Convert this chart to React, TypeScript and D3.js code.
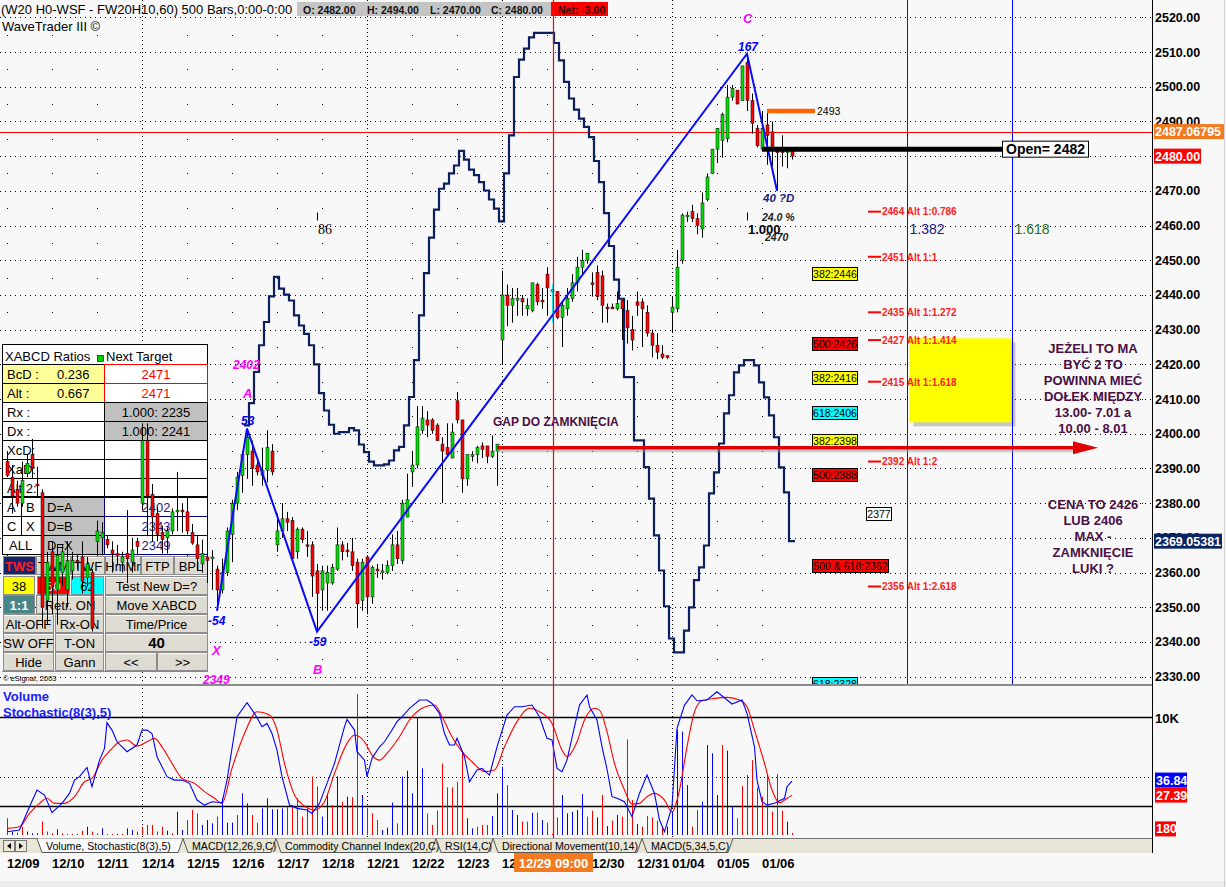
import React from "react";
import * as d3 from "d3";

const FONT = "'Liberation Sans', Arial, Helvetica, sans-serif";
const W = 1226;
const H = 887;

// ---------------- time axis ----------------
const dayLabels = ["12/09","12/10","12/11","12/14","12/15","12/16","12/17","12/18","12/21","12/22","12/23","12/28","12/29","12/30","12/31","01/04","01/05","01/06"];
const dayBarCounts = [9,9,9,9,9,9,9,9,9,9,9,9,9,9,7,9,9,7];
const weekStartLabels = ["12/14","12/21","12/28","01/04"];
const cursorBar = 109;
const cursorLabel = "12/29 09:00";

// ---------------- price axis ----------------
const priceTicks = [2330,2340,2350,2360,2370,2380,2390,2400,2410,2420,2430,2440,2450,2460,2470,2480,2490,2500,2510,2520];

// ---------------- hourly candles [open, high, low, close] ----------------
const ohlc: [number, number, number, number][] = [
  [2392,2395,2387.5,2388],[2387.5,2391,2377,2382],[2384,2386.5,2379,2380],[2380,2392,2379,2386.5],[2388.5,2394,2387.5,2391.5],
  [2394,2398.5,2387,2390],[2385.5,2390.5,2382,2385],[2383,2384,2344,2350],[2352,2366,2345,2363],[2366,2369,2348,2356],
  [2355,2368,2345,2365],[2360,2368,2356,2366],[2355,2369,2350,2363.5],[2360.5,2366,2358,2363.5],[2363.5,2365,2361,2363],
  [2364.5,2369,2354,2357.5],[2358.5,2364.5,2356,2362.5],[2360,2361,2343,2344],[2369,2375,2365,2372],[2370,2374.5,2365,2371.5],
  [2369.5,2370.5,2367,2368],[2366.5,2369,2360,2365.5],[2365.5,2368,2362,2365],[2363,2366,2360,2364.5],[2365.5,2378,2357,2364],
  [2363,2370,2360,2366.5],[2369,2370,2365,2367.5],[2380,2403,2378,2398],[2398,2403,2370.5,2382],[2382.5,2385.5,2369,2376],
  [2377,2379,2369,2371],[2371.5,2373.5,2365.5,2369.5],[2370,2373,2365.5,2372],[2372,2378.5,2371,2377.5],[2377.5,2389,2372,2378],
  [2378,2380,2371.5,2377.5],[2377.5,2381.5,2371,2372],[2371.5,2374,2368,2368.5],[2368,2370.5,2360.5,2364],[2362.5,2369.5,2360,2365.5],
  [2364.5,2365.5,2357,2363.5],[2364,2366.5,2355,2364.5],[2361,2362,2349,2355],[2355,2364,2354,2360],[2360,2373,2359,2372],
  [2371,2381,2363,2380],[2380,2389,2378,2387.5],[2388,2395,2383,2394],[2394,2401.5,2387,2399],[2395,2398,2385,2390],
  [2391,2392,2388,2389],[2388,2396,2385,2389.5],[2389.5,2401,2386,2396],[2395,2397,2388,2389],[2368,2377,2366,2372],
  [2372,2380,2370,2375.5],[2375.5,2377.5,2372,2374.5],[2375,2376,2363,2364],[2366,2373,2364,2372.5],[2372.5,2373,2368.5,2369.5],
  [2368,2372,2364.5,2367.5],[2368,2369,2353,2359],[2360.5,2362.5,2343,2354],[2355,2362,2349,2360.5],[2357,2362,2349,2360],
  [2357,2362.5,2356.5,2361.5],[2361,2373,2360.5,2368],[2368,2369,2363.5,2366],[2366.5,2368.5,2364.5,2366],[2366,2370,2360.5,2362],
  [2363,2364,2344,2351],[2352,2364,2349,2363],[2364.5,2365,2348,2353],[2353,2362,2351,2361.5],[2361,2362.5,2358.5,2360.5],
  [2360,2362.5,2358,2360.5],[2360,2363.5,2359.5,2362],[2362,2371,2360.5,2368],[2368,2372,2362.5,2364],[2363.5,2381,2362.5,2380],
  [2376,2388.5,2376,2381],[2389,2395,2385,2391],[2391,2408,2390,2402],[2401,2408,2400,2404.5],[2404,2406.5,2399,2402.5],
  [2404,2404.5,2400,2401],[2402.5,2403,2398,2398],[2397,2399,2380,2395],[2396,2403,2393.5,2394],[2393,2403,2393,2400.5],
  [2409.5,2412,2403,2404],[2404,2404,2383,2387],[2387,2394,2385,2394],[2393.5,2395,2392,2394],[2394,2396.5,2391.5,2396],
  [2396.5,2397.5,2393,2395.5],[2396.5,2396.5,2391.5,2393.5],[2393.5,2399.5,2393,2395],[2395,2397,2385,2397],[2427,2447,2420,2440],
  [2440,2443,2431,2437],[2437,2442,2432,2439],[2438.5,2442,2434,2439],[2439,2440,2434,2438],[2436,2439,2434,2437],
  [2435.5,2443.5,2435,2443.5],[2443,2443.5,2437,2438],[2438.5,2442,2436,2438],[2446,2448,2434,2442],[2441,2443,2432,2441.5],
  [2441,2441,2433,2433.5],[2433.5,2438,2425,2437],[2436,2442,2434,2439],[2439,2446,2438,2443.5],[2443.5,2451,2441,2448],
  [2448,2453,2446,2450],[2450,2452,2449,2452],[2443.5,2446.5,2439.5,2443],[2446.5,2448.5,2438.5,2439.5],[2445.5,2447,2432,2437],
  [2436.5,2437.5,2432,2436],[2436.5,2437.5,2436,2436],[2436,2441,2435.5,2437.5],[2438.5,2438.5,2427,2436],[2435.5,2438.5,2426,2430.5],
  [2430,2434,2424,2427],[2438,2441,2434,2437],[2438,2439,2425,2436],[2435,2437,2428,2429],[2429,2430,2422,2425.5],
  [2425.5,2429,2421.5,2423.5],[2423,2425.5,2421.5,2422],[2422.5,2422.5,2421.5,2422],[2435,2439.5,2429,2436.5],[2436,2453,2435,2448],
  [2450,2463.5,2449,2463],[2462.5,2464,2461,2463],[2464,2466,2461,2462],[2462,2463.5,2457.5,2460],[2459,2469.5,2456.5,2466.5],
  [2467.5,2475,2467,2474],[2475,2482,2475,2482],[2482,2488,2478,2488],[2484.5,2492.5,2479.5,2492],[2485,2500.5,2484,2497],
  [2497,2500.5,2496,2499.5],[2499,2499,2495,2495],[2496,2506,2496,2506],[2507,2509.5,2493,2496],[2496,2498,2486.5,2489.5],
  [2488,2489,2482.5,2483],[2482,2493,2481.5,2488],[2489,2493,2477.5,2486],[2487,2490,2477,2482.5],[2482,2482.5,2470,2481],
  [2482,2486,2477,2481],[2481,2482,2476.5,2481.5],[2481.5,2482,2479,2480]
];

// ---------------- cycle (step) line, one value per bar starting at bar 48 ----------------
const cycleStartBar = 48;
const cycleLine = [
  2402.4,2408.8,2417.8,2425.5,2432.2,2439.6,2445.2,2441.8,2440.1,2438.4,
  2434.1,2431.2,2428.8,2425.5,2420,2411.7,2406.7,2402.6,2400,2400.5,
  2400.5,2401.6,2401,2396.9,2394.7,2392,2390.9,2390.9,2391.2,2392.3,
  2395.2,2396.2,2402.4,2410.6,2421.2,2434.1,2446.3,2456.5,2464.6,2470.6,
  2472.1,2475,2477.3,2481.5,2479,2476.1,2474.5,2472.5,2470.1,2467.5,
  2464.9,2461.2,2475,2486,2502.8,2507.8,2511,2514.2,2515.5,2515.5,
  2515.5,2515.5,2512.6,2507.6,2501.4,2496.6,2493.4,2490.8,2488.4,2485.5,
  2478.6,2472.5,2463.6,2454.1,2444.4,2438.9,2416.3,2416.3,2398.1,2398.1,
  2390.4,2381.3,2370.7,2360.6,2350.3,2341,2337,2337,2343.3,2350,
  2357.8,2361.5,2367.8,2382.8,2388.9,2397.2,2405.9,2411.1,2417.7,2419.7,
  2421.2,2421.2,2419.7,2414.8,2410.5,2405.3,2399,2390.3,2383.1,2369.05381
];

// ---------------- volume (thousands) and bar direction (B = up/blue, R = down/red) ----------------
const volumesK = [
  1.43,0.3,0.2,0.7,0.3,0.15,0.15,1.14,0.29,0.15,
  0.49,0.15,0.1,0.1,0.1,0.37,0.71,0.29,0.15,0.57,
  0.09,0.09,0.1,0.1,0.57,0.43,0.29,0.71,0.86,0.86,
  0.29,0.71,0.37,0.15,1.99,0.43,1.28,2.14,1.85,0.86,
  1.28,1.0,1.57,3.14,1.05,1.05,1.71,3.56,2.71,1.71,
  1.05,2.28,3.14,2.2,2.2,2.28,2.42,2.56,3.14,1.57,
  2.28,4.99,4.13,1.57,3.56,2.56,4.99,2.85,3.28,3.23,
  12.05,3.42,2.28,1.85,1.28,0.43,0.63,2.77,1.0,4.99,
  5.5,3.56,10.06,5.7,1.85,0.86,2.08,6.1,4.07,4.07,
  4.56,7.12,1.43,0.57,0.71,0.86,0.86,1.62,3.56,5.83,
  4.27,2.14,1.71,1.14,1.14,1.91,1.91,1.28,1.05,0.1,
  1.51,3.42,1.85,1.99,2.14,3.5,1.57,2.08,1.51,3.42,
  0.77,1.23,1.71,1.57,8.18,2.99,0.94,0.71,1.62,1.51,
  1.23,0.6,0.71,1.99,9.03,8.83,4.27,0.71,2.14,2.85,
  7.7,6.98,3.42,7.7,7.21,2.42,1.43,4.19,5.13,6.4,
  4.07,3.28,5.13,1.99,5.21,2.08,1.14,0.18
];
const volumeDirs =
  "RBRRBBBRRR" + "BRRRRRBRRB" + "RRBRBBRRRR" + "RRBRBBRRRB" + "BBRBBBRBBR" +
  "RBBBBBRRRR" + "RRRBBRBRBR" + "RBRRRBBBRB" + "BBBBRRRRRR" + "RRBBRRRBBB" +
  "RBBRRBRBRR" + "RBBBBBRRBR" + "BRBRRRBRRR" + "RRBBBBBRRB" + "BBBRBBRRRR" + "RRRRRRBR";

// ---------------- stochastic readings [bar, value] ----------------
const stochK: [number, number][] = [
  [0,2.6],[2.5,3.8],[4.5,19.5],[6,30.8],[7.5,27.4],[9,15.5],[11,21.8],[12.5,28.5],[13.5,37.5],[14.5,39.8],
  [16,46],[17,33],[18.5,51],[19.5,58.9],[20,76.3],[21,71.3],[22,63.4],[24,56.7],[26,61.2],[27,71.3],
  [28,71.3],[29,69],[30,53.3],[32,39.8],[33.5,37.5],[35,37.5],[36.5,35.3],[38,24],[39.5,20.6],[41,22.9],
  [43,22.2],[44,37.5],[46,80.3],[48,89.8],[49.5,82.6],[51,73.6],[52,75.8],[53,69],[54,57.8],[55,39.8],
  [56.5,20.6],[58,18.4],[60,17.3],[61,15],[62.5,21.8],[64,35.3],[65.5,48.8],[67.5,73.6],[68,78.5],[69.5,71.3],
  [70,56.7],[71.5,51],[72,39.8],[73,52.2],[74.5,60],[75.5,63.4],[77,71.3],[78,77],[79,80.3],[80.5,86],
  [82.5,91.6],[84,91.6],[85,89.3],[86.5,82.6],[87.5,69],[88.5,61.2],[89.5,61.2],[90,65.7],[91.5,53.3],[92.5,36.4],
  [94,44.3],[95,45.4],[96.5,40.9],[98,60],[100,81.4],[101.5,87.1],[103,87.1],[105,88.2],[106.5,80.3],[108,65.7],
  [109,64.6],[110,45.4],[111,43.2],[112,51],[113.5,73.6],[114.5,88.2],[116,95],[116.5,87.1],[118,78.1],[119,60],
  [120,45],[121,26.3],[122,25.2],[123.5,22.9],[125,12.8],[126.5,28.5],[128,40.9],[129.5,28.5],[130.5,10.5],[131.5,2.6],
  [133,19.5],[134,72.4],[135.5,88.2],[137,95],[138,91.1],[140,91.6],[142,97.2],[145,88.9],[147,91.6],[148,82.6],
  [149.5,60],[150,37.5],[151,22.9],[152,20.6],[153.5,21.8],[155.5,25.2],[156,33],[157,36.84]
];
const stochD: [number, number][] = [
  [0,4.9],[2.5,6],[4.5,15],[6.5,21.8],[8,25.2],[9.5,21.8],[11.5,21.8],[13.5,26.3],[15.5,36.4],[17,38.7],
  [19,51],[21,58.9],[22.5,63.4],[24,64.6],[26,60.5],[28,63.4],[29.5,65.7],[31,60],[33,48.8],[35,38.7],
  [37.5,35.3],[39.5,29.7],[41.5,25.2],[43,21.8],[45,45.4],[47.5,69],[50,83.7],[52.5,81.5],[54,71.3],[55.5,48.8],
  [57.5,27.4],[59.5,20],[61.5,17.3],[63.5,22.9],[65.5,42],[68,62.3],[69.5,68],[71.5,63.4],[73,54.4],[74.5,51],
  [76,55.6],[78.5,66.8],[80.5,78.1],[83,86],[85.5,88.2],[87,80.3],[89,66.8],[91,56.7],[93,49.9],[95.5,43.2],
  [97.5,44.3],[99.5,60],[102,77],[104.5,86],[106.5,83.7],[109,75.8],[111,57.8],[112,53.3],[114,63.4],[115.5,78.1],
  [117.5,86],[118.5,84.8],[120,70.2],[121.5,48.8],[123.5,30.8],[125,21.3],[126.5,21.8],[128,26.3],[129.5,28.5],[131.5,24],
  [133,16.1],[134.5,30.8],[136,60],[137.5,83.7],[139,91.1],[141.5,92.7],[144,93.4],[146.5,91.6],[148,87.1],[149.5,71.3],
  [151.5,48.8],[153,30.8],[154.5,22.2],[156,25.2],[157,27.39]
];

// ---------------- XABCD pattern ----------------
const xabcdPoints = [
  { name: "X", bar: 42, price: 2349 },
  { name: "A", bar: 48, price: 2401.5 },
  { name: "B", bar: 62, price: 2343 },
  { name: "C", bar: 148, price: 2509.5 },
  { name: "D", bar: 154, price: 2470 }
];
const timeRatios = [1.382, 1.618];

// ---------------- levels & annotations ----------------
const fibBoxes = [
  { text: "382:2446", price: 2446, bg: "#ffff00", wide: false },
  { text: "500:2426", price: 2426, bg: "#ff0000", wide: false },
  { text: "382:2416", price: 2416, bg: "#ffff00", wide: false },
  { text: "618:2406", price: 2406, bg: "#00ffff", wide: false },
  { text: "382:2398", price: 2398, bg: "#ffff00", wide: false },
  { text: "500:2388", price: 2388, bg: "#ff0000", wide: false },
  { text: "500 & 618:2362", price: 2362, bg: "#ff0000", wide: true },
  { text: "618:2328", price: 2328, bg: "#00ffff", wide: false }
];
const altLevels = [
  { price: 2464, text: "2464 Alt 1:0.786" },
  { price: 2451, text: "2451 Alt 1:1" },
  { price: 2435, text: "2435 Alt 1:1.272" },
  { price: 2427, text: "2427 Alt 1:1.414" },
  { price: 2415, text: "2415 Alt 1:1.618" },
  { price: 2392, text: "2392 Alt 1:2" },
  { price: 2356, text: "2356 Alt 1:2.618" }
];
const pivotBoxPrice = 2377;
const gapPrice = 2396;
const gapStartBar = 98;
const openPrice = 2482;
const openStartBar = 151;
const resistPrice = 2493;
const resistStartBar = 152;
const cursorPrice = 2487.06795;
const lastClose = 2480;
const cycleLast = 2369.05381;
const lastK = 36.84;
const lastD = 27.39;
const lastVolume = 180;
const noteBoxTop = 2427.5;
const noteBoxBottom = 2403.3;
const noteLines1 = ["JEŻELI TO MA", "BYĆ 2 TO", "POWINNA MIEĆ", "DOŁEK MIĘDZY", "13.00- 7.01 a", "10.00 - 8.01"];
const noteLines2 = ["CENA TO 2426", "LUB 2406", "MAX -", "ZAMKNIĘCIE", "LUKI ?"];
const tabs = [
  { label: "Volume, Stochastic(8(3),5)", x0: 37, x1: 183, active: true },
  { label: "MACD(12,26,9,C)", x0: 183, x1: 276, active: false },
  { label: "Commodity Channel Index(20,C)", x0: 276, x1: 436, active: false },
  { label: "RSI(14,C)", x0: 436, x1: 493, active: false },
  { label: "Directional Movement(10,14)", x0: 493, x1: 642, active: false },
  { label: "MACD(5,34,5,C)", x0: 642, x1: 733, active: false }
];

const PR = 1152; // right edge of plot
const MAIN_B = 684;
const SUB_T = 686;
const SUB_B = 837;
const TAB_B = 853;

export default function App() {
  const xScale = d3.scaleLinear().domain([0, 157]).range([7, 792]);
  const yScale = d3.scaleLinear().domain([2330, 2520]).range([676.7, 17.3]);
  const stochScale = d3.scaleLinear().domain([0, 100]).range([835.6, 687.6]);
  const volScale = d3.scaleLinear().domain([0, 10]).range([835, 718]);
  const px = (i: number) => Math.round(xScale(i)) + 0.5;
  const py = (p: number) => Math.round(yScale(p)) + 0.5;

  const dayStarts: number[] = [];
  let acc = 0;
  dayBarCounts.forEach((n) => { dayStarts.push(acc); acc += n; });
  const weekStarts = dayStarts.filter((_, k) => weekStartLabels.includes(dayLabels[k]));
  const otherStarts = dayStarts.filter((_, k) => !weekStartLabels.includes(dayLabels[k]));

  const stepPts: [number, number][] = cycleLine.map((v, k) => [xScale(cycleStartBar + k) - 3, yScale(v)]);
  stepPts.push([xScale(cycleStartBar + cycleLine.length - 1) + 3, yScale(cycleLine[cycleLine.length - 1])]);
  const stepPath = d3.line().curve(d3.curveStepAfter)(stepPts) || "";

  const patPath = d3.line<{ bar: number; price: number }>().x((d) => xScale(d.bar)).y((d) => yScale(d.price))(xabcdPoints) || "";
  const kPath = d3.line<[number, number]>().x((d) => xScale(d[0])).y((d) => stochScale(d[1]))(stochK) || "";
  const dPath = d3.line<[number, number]>().curve(d3.curveMonotoneX).x((d) => xScale(d[0])).y((d) => stochScale(d[1]))(stochD) || "";

  const P = Object.fromEntries(xabcdPoints.map((p) => [p.name, { x: xScale(p.bar), y: yScale(p.price), bar: p.bar, price: p.price }]));
  const bcBars = P.C.bar - P.B.bar;
  const timeBars = timeRatios.map((r) => P.B.bar + Math.floor(bcBars * r));
  const tX = timeBars.map((b) => px(b));

  const halfLevels = priceTicks.slice(0, -1).map((p) => p + 5);
  const timeLabelY = 233.5;

  const cursorX = px(cursorBar) + 1;
  const cursorBoxX0 = Math.round(cursorX) - 40;

  const cell = (x0: number, y0: number, x1: number, y1: number, fill: string, stroke = "#000", sw = 1) => (
    <rect x={x0 + 0.5} y={y0 + 0.5} width={x1 - x0} height={y1 - y0} fill={fill} stroke={stroke} strokeWidth={sw} />
  );

  const buttonRows: { y: number; cells: { x0: number; x1: number; t: string; bg?: string; fg?: string; bold?: boolean; size?: number }[] }[] = [
    { y: 556, cells: [
      { x0: 3, x1: 35, t: "TWS", bg: "#14246e", fg: "#ff2020", bold: true },
      { x0: 36, x1: 70, t: "TWM" }, { x0: 71, x1: 104, t: "TWF" }, { x0: 105, x1: 140, t: "HmMr" },
      { x0: 141, x1: 173, t: "FTP" }, { x0: 174, x1: 207, t: "BPL" }] },
    { y: 576, cells: [
      { x0: 3, x1: 34, t: "38", bg: "#ffff00" }, { x0: 37, x1: 69, t: "50", bg: "#ff0000", fg: "#fff" },
      { x0: 71, x1: 103, t: "62", bg: "#00ffff" }, { x0: 105, x1: 207, t: "Test New D=?" }] },
    { y: 595, cells: [
      { x0: 3, x1: 34, t: "1:1", bg: "#4a8585", fg: "#fff", bold: true }, { x0: 36, x1: 103, t: "Retr. ON" },
      { x0: 105, x1: 207, t: "Move XABCD" }] },
    { y: 614, cells: [
      { x0: 3, x1: 53, t: "Alt-OFF" }, { x0: 55, x1: 103, t: "Rx-ON" }, { x0: 105, x1: 207, t: "Time/Price" }] },
    { y: 633, cells: [
      { x0: 3, x1: 53, t: "SW OFF" }, { x0: 55, x1: 103, t: "T-ON" }, { x0: 105, x1: 207, t: "40", bold: true, size: 15 }] },
    { y: 652, cells: [
      { x0: 3, x1: 53, t: "Hide" }, { x0: 55, x1: 103, t: "Gann" }, { x0: 105, x1: 156, t: "<<" }, { x0: 157, x1: 207, t: ">>" }] }
  ];

  const labelBox = (x: number, yc: number, w: number, text: string, bg: string, fg = "#fff", size = 12.5) => (
    <g>
      <rect x={x} y={yc - 7.5} width={w} height={15} fill={bg} />
      <text x={x + 1} y={yc + 4.5} fontSize={size} fontWeight="bold" fill={fg}>{text}</text>
    </g>
  );

  // date labels: those fully covered by the cursor label are not drawn
  const dateItems = dayStarts
    .map((ds, k) => ({ x: Math.round(xScale(ds)), label: dayLabels[k] }))
    .filter((d) => !(d.x >= cursorBoxX0 && d.x + 33 <= cursorBoxX0 + 79));

  return (
    <div style={{ position: "absolute", left: 0, top: 0 }}>
      <svg width={W} height={H} viewBox={`0 0 ${W} ${H}`} style={{ display: "block", fontFamily: FONT }}>
        <defs>
          <clipPath id="mainClip"><rect x={0} y={0} width={PR} height={MAIN_B} /></clipPath>
          <clipPath id="subClip"><rect x={0} y={SUB_T - 10} width={PR} height={SUB_B - SUB_T + 10} /></clipPath>
          <clipPath id="dateClip"><rect x={0} y={853} width={cursorBoxX0} height={30} /><rect x={cursorBoxX0 + 79} y={853} width={PR} height={30} /></clipPath>
        </defs>
        <rect x={0} y={0} width={W} height={H} fill="#f8f8f8" />

        {/* ---------- main panel grid ---------- */}
        <g clipPath="url(#mainClip)">
          {priceTicks.map((p) => (
            <line key={p} x1={0} x2={PR} y1={py(p)} y2={py(p)} stroke="#000" strokeDasharray="1 4" />
          ))}
          {otherStarts.map((ds) => halfLevels.map((p) => (
            <rect key={`${ds}-${p}`} x={Math.round(xScale(ds))} y={Math.round(yScale(p))} width={1} height={1} fill="#000" />
          )))}
        </g>
        {weekStarts.map((ds) => (
          <line key={ds} x1={px(ds)} x2={px(ds)} y1={0} y2={SUB_B} stroke="#000" strokeDasharray="1 3" />
        ))}

        {/* ---------- XABCD table & buttons ---------- */}
        <g fontSize={13} fill="#000">
          {cell(2, 344, 207, 554, "#fff")}
          {cell(2, 344, 207, 364, "#fff")}
          <text x={5} y={361}>XABCD Ratios</text>
          <rect x={97.5} y={355.5} width={6} height={6} fill="#00d000" stroke="#000" strokeWidth={0.6} />
          <text x={106} y={361}>Next Target</text>
          {cell(2, 364, 104, 383, "#ffff99")}
          {cell(104, 364, 207, 383, "#fff", "#ff0000")}
          <text x={7} y={379}>BcD :</text><text x={57} y={379}>0.236</text>
          <text x={156} y={379} textAnchor="middle" fill="#ff0000">2471</text>
          {cell(2, 383, 104, 402, "#ffff99")}
          {cell(104, 383, 207, 402, "#fff", "#ff0000")}
          <text x={7} y={398}>Alt   :</text><text x={57} y={398}>0.667</text>
          <text x={156} y={398} textAnchor="middle" fill="#ff0000">2471</text>
          {cell(2, 402, 104, 421, "#fff")}
          {cell(104, 402, 207, 421, "#c0c0c0")}
          <text x={7} y={417}>Rx   :</text>
          <text x={156} y={417} textAnchor="middle">1.000: 2235</text>
          {cell(2, 421, 104, 440, "#fff")}
          {cell(104, 421, 207, 440, "#c0c0c0")}
          <text x={7} y={436}>Dx   :</text>
          <text x={156} y={436} textAnchor="middle">1.000: 2241</text>
          {cell(2, 440, 104, 459, "#fff")}{cell(104, 440, 207, 459, "#fff")}
          <text x={7} y={455}>XcD:</text>
          {cell(2, 459, 104, 478, "#fff")}{cell(104, 459, 207, 478, "#fff")}
          <text x={7} y={474}>XaD:</text>
          {cell(2, 478, 104, 497, "#fff")}{cell(104, 478, 207, 497, "#fff")}
          <text x={7} y={493}>Alt  2:</text>
          {cell(2, 497, 21, 516, "#fff")}{cell(21, 497, 41, 516, "#fff")}{cell(41, 497, 104, 516, "#c0c0c0")}
          {cell(104, 497, 207, 516, "#fff", "#000080")}
          <text x={7} y={512}>A</text><text x={26} y={512}>B</text><text x={47} y={512}>D=A</text>
          <text x={156} y={512} textAnchor="middle" fill="#1a1a8c">2402</text>
          {cell(2, 516, 21, 535, "#fff")}{cell(21, 516, 41, 535, "#fff")}{cell(41, 516, 104, 535, "#c0c0c0")}
          {cell(104, 516, 207, 535, "#fff", "#000080")}
          <text x={7} y={531}>C</text><text x={26} y={531}>X</text><text x={47} y={531}>D=B</text>
          <text x={156} y={531} textAnchor="middle" fill="#1a1a8c">2343</text>
          {cell(2, 535, 41, 554, "#fff")}{cell(41, 535, 104, 554, "#c0c0c0")}
          {cell(104, 535, 207, 554, "#fff", "#000080")}
          <text x={9} y={550}>ALL</text><text x={47} y={550}>D=X</text>
          <text x={156} y={550} textAnchor="middle" fill="#1a1a8c">2349</text>
          <line x1={2} x2={208} y1={497} y2={497} stroke="#000" strokeWidth={2} />
          {buttonRows.map((row, ri) => (
            <g key={ri}>
              {row.cells.map((c, ci) => (
                <g key={ci}>
                  <rect x={c.x0 + 0.5} y={row.y + 0.5} width={c.x1 - c.x0} height={18} fill={c.bg || "#dedbd2"} stroke="#8c8c8c" />
                  <line x1={c.x0 + 1} x2={c.x1} y1={row.y + 1.5} y2={row.y + 1.5} stroke="#fff" strokeOpacity={c.bg ? 0 : 0.9} />
                  <text x={(c.x0 + c.x1) / 2 + 0.5} y={row.y + 14.5} textAnchor="middle" fontSize={c.size || 13}
                    fontWeight={c.bold ? "bold" : "normal"} fill={c.fg || "#000"}>{c.t}</text>
                </g>
              ))}
            </g>
          ))}
          <line x1={2} x2={208} y1={671.5} y2={671.5} stroke="#888" />
          <text x={3} y={681} fontSize={7.5}>© eSignal, 2003</text>
        </g>

        {/* ---------- right side annotation area ---------- */}
        <rect x={tX[0] + 6} y={yScale(noteBoxTop) + 4} width={tX[1] - tX[0] - 3} height={yScale(noteBoxBottom) - yScale(noteBoxTop)} fill="#8a8a8a" opacity={0.45} />
        <rect x={tX[0] + 2} y={yScale(noteBoxTop)} width={tX[1] - tX[0] - 3} height={yScale(noteBoxBottom) - yScale(noteBoxTop)} fill="#ffff00" />
        {tX.map((x, k) => (
          <line key={k} x1={x} x2={x} y1={0} y2={MAIN_B} stroke={k === 0 ? "#1a1a9a" : "#0000ff"} />
        ))}
        <text x={tX[0] + 2} y={timeLabelY} fontSize={14} fill="#1a1a80">{timeRatios[0].toFixed(3)}</text>
        <text x={tX[1] + 2} y={timeLabelY} fontSize={14} fill="#267018">{timeRatios[1].toFixed(3)}</text>

        <g clipPath="url(#mainClip)">
          {fibBoxes.map((b) => {
            const yc = Math.round(yScale(b.price));
            const w = b.wide ? 76 : 45;
            return (
              <g key={b.text}>
                <rect x={812.5} y={yc - 6.5} width={w} height={13} fill={b.bg} stroke="#000" />
                <text x={812.5 + w / 2} y={yc + 4} textAnchor="middle" fontSize={10.5} fill="#000">{b.text}</text>
              </g>
            );
          })}
          <rect x={866.5} y={Math.round(yScale(pivotBoxPrice)) - 6.5} width={25} height={13} fill="#fff" stroke="#000" />
          <text x={879} y={Math.round(yScale(pivotBoxPrice)) + 4} textAnchor="middle" fontSize={10.5}>{pivotBoxPrice}</text>
        </g>
        {altLevels.map((a) => (
          <g key={a.text}>
            <line x1={868} x2={881} y1={yScale(a.price)} y2={yScale(a.price)} stroke="#ff0000" strokeWidth={2} />
            <text x={882} y={yScale(a.price) + 3.8} fontSize={10} fontWeight="bold" fill="#ff2020">{a.text}</text>
          </g>
        ))}

        {/* horizontal cursor line */}
        <line x1={0} x2={PR} y1={py(cursorPrice)} y2={py(cursorPrice)} stroke="#ff0000" />

        {/* ---------- price series ---------- */}
        <g clipPath="url(#mainClip)">
          <path d={stepPath} fill="none" stroke="#0c1f5e" strokeWidth={2.2} />
          {ohlc.map(([o, h, l, c], i) => {
            const x = px(i);
            const up = c >= o;
            const hi = i === cursorBar;
            const fill = hi ? "#00ffff" : up ? "#00e000" : "#ff0000";
            const yT = yScale(Math.max(o, c));
            const yB = yScale(Math.min(o, c));
            return (
              <g key={i}>
                <line x1={x} x2={x} y1={yScale(h)} y2={yScale(l)} stroke={hi ? "#00ffff" : "#000"} />
                <rect x={x - 1.5} y={yT} width={3} height={Math.max(1.2, yB - yT)} fill={fill} stroke="#000" strokeWidth={0.6} strokeOpacity={0.8} />
              </g>
            );
          })}
          <path d={patPath} fill="none" stroke="#0a0aff" strokeWidth={2} />
        </g>

        {/* gap arrow */}
        <g>
          <line x1={xScale(gapStartBar)} x2={1076} y1={yScale(gapPrice) + 3} y2={yScale(gapPrice) + 3} stroke="#9a9a9a" strokeWidth={3} opacity={0.5} />
          <line x1={xScale(gapStartBar)} x2={1076} y1={yScale(gapPrice)} y2={yScale(gapPrice)} stroke="#e00000" strokeWidth={3.5} />
          <path d={`M1073,${yScale(gapPrice) - 6.5} L1098,${yScale(gapPrice)} L1073,${yScale(gapPrice) + 6.5} Z`} fill="#e00000" />
        </g>
        <text x={xScale(gapStartBar) - 4} y={yScale(gapPrice) - 21.5} fontSize={12} fontWeight="bold" fill="#4a0f45">GAP DO ZAMKNIĘCIA</text>

        {/* resistance & open lines */}
        <line x1={xScale(resistStartBar)} x2={815} y1={yScale(resistPrice)} y2={yScale(resistPrice)} stroke="#ff6600" strokeWidth={4.5} />
        <text x={817} y={yScale(resistPrice) + 4} fontSize={10.5} fill="#000">{resistPrice}</text>
        <line x1={xScale(openStartBar)} x2={1002} y1={yScale(openPrice)} y2={yScale(openPrice)} stroke="#000" strokeWidth={5} />
        <rect x={1002.5} y={yScale(openPrice) - 8} width={86} height={16} fill="#fff" stroke="#000" />
        <text x={1006} y={yScale(openPrice) + 5} fontSize={14} fontWeight="bold" fill="#000">{`Open= ${openPrice}`}</text>

        {/* notes */}
        <g fontSize={13} fontWeight="bold" fill="#4a0f45" textAnchor="middle">
          {noteLines1.map((t, k) => <text key={t} x={1093} y={352.5 + k * 16} >{t}</text>)}
          {noteLines2.map((t, k) => <text key={t} x={1093} y={508.5 + k * 16}>{t}</text>)}
        </g>

        {/* XABCD labels */}
        <g fontWeight="bold" fontStyle="italic" fontSize={12}>
          <text x={P.A.x - 14} y={P.A.y - 60} fill="#ff00ff">{Math.round(P.A.price)}</text>
          <text x={P.A.x - 4} y={P.A.y - 31} fill="#ff00ff" fontSize={13}>A</text>
          <text x={P.A.x - 6} y={P.A.y - 4} fill="#0000ff">53</text>
          <text x={P.X.x - 9} y={P.X.y + 14} fill="#0000ff">-54</text>
          <text x={P.X.x - 5} y={P.X.y + 44} fill="#ff00ff" fontSize={13}>X</text>
          <text x={P.X.x - 14} y={P.X.y + 73} fill="#ff00ff">{P.X.price}</text>
          <text x={P.B.x - 8} y={P.B.y + 14} fill="#0000ff">-59</text>
          <text x={P.B.x - 4} y={P.B.y + 42} fill="#ff00ff" fontSize={13}>B</text>
          <text x={P.C.x - 9} y={P.C.y - 3} fill="#0000ff">167</text>
          <text x={P.C.x - 4} y={P.C.y - 31} fill="#ff00ff" fontSize={13}>C</text>
          <text x={P.D.x - 14} y={P.D.y + 11} fill="#1a237e" fontSize={11.5}>40 ?D</text>
          <text x={P.D.x - 15} y={P.D.y + 30} fill="#222" fontSize={10.5}>24.0 %</text>
        </g>
        <line x1={Math.round(P.B.x) + 0.5} x2={Math.round(P.B.x) + 0.5} y1={timeLabelY - 21} y2={timeLabelY - 13} stroke="#000" />
        <text x={P.B.x + 1} y={timeLabelY} fontSize={14} fontFamily="'Liberation Serif', 'DejaVu Serif', serif">{bcBars}</text>
        <line x1={Math.round(P.C.x) + 0.5} x2={Math.round(P.C.x) + 0.5} y1={timeLabelY - 21} y2={timeLabelY - 13} stroke="#000" />
        <text x={P.C.x + 1} y={timeLabelY} fontSize={13} fontWeight="bold" fill="#000">1.000</text>
        <text x={P.D.x - 12} y={P.D.y + 50} fontSize={10.5} fontWeight="bold" fontStyle="italic" fill="#222">{P.D.price}</text>

        {/* ---------- header ---------- */}
        <text x={1} y={14} fontSize={13} fill="#000">(W20 H0-WSF - FW20H10,60) 500 Bars,0:00-0:00</text>
        <text x={2} y={31} fontSize={13} fill="#000">WaveTrader III ©</text>
        <rect x={297} y={2} width={254} height={14} fill="#c4c4c4" />
        <g fontSize={10.5} fontWeight="bold" fill="#111">
          <text x={303} y={13.5}>O: 2482.00</text>
          <text x={367} y={13.5}>H: 2494.00</text>
          <text x={430} y={13.5}>L: 2470.00</text>
          <text x={491} y={13.5}>C: 2480.00</text>
        </g>
        <rect x={551} y={2} width={57} height={14} fill="#ff0000" />
        <text x={558} y={13.5} fontSize={10.5} fontWeight="bold" fill="#300">Net: -3.00</text>

        {/* ---------- separator ---------- */}
        <rect x={0} y={MAIN_B} width={PR} height={2} fill="#8c8c8c" />

        {/* ---------- sub panel ---------- */}
        <line x1={0} x2={PR} y1={Math.round(stochScale(80)) + 0.5} y2={Math.round(stochScale(80)) + 0.5} stroke="#000" strokeWidth={1.3} />
        <line x1={0} x2={PR} y1={Math.round(volScale(5)) + 0.5} y2={Math.round(volScale(5)) + 0.5} stroke="#000" strokeDasharray="1 3" />
        <line x1={0} x2={PR} y1={Math.round(stochScale(20)) + 0.5} y2={Math.round(stochScale(20)) + 0.5} stroke="#000" strokeWidth={1.3} />
        <g clipPath="url(#subClip)">
          {volumesK.map((v, i) => (
            <line key={i} x1={px(i)} x2={px(i)} y1={volScale(0)} y2={volScale(v)} stroke={volumeDirs[i] === "B" ? "#0000ff" : "#ff0000"} />
          ))}
          <path d={dPath} fill="none" stroke="#ff0000" strokeWidth={1.1} />
          <path d={kPath} fill="none" stroke="#0000ff" strokeWidth={1.1} />
        </g>
        <text x={3} y={701} fontSize={13} fontWeight="bold" fill="#1a1aff">Volume</text>
        <text x={3} y={717} fontSize={13} fontWeight="bold" fill="#1a1aff">Stochastic(8(3),5)</text>

        {/* vertical cursor */}
        <line x1={cursorX} x2={cursorX} y1={0} y2={SUB_B + 1} stroke="#ff0000" strokeWidth={1.2} />

        {/* ---------- tab bar ---------- */}
        <rect x={0} y={SUB_B + 1} width={PR} height={TAB_B - SUB_B - 1} fill="#e8e6d6" />
        <line x1={0} x2={PR} y1={SUB_B + 1.5} y2={SUB_B + 1.5} stroke="#707070" />
        <rect x={3.5} y={840.5} width={11} height={11} fill="#ece9d8" stroke="#777" />
        <path d="M11,843 L7,846 L11,849 Z" fill="#000" />
        <rect x={15.5} y={840.5} width={11} height={11} fill="#ece9d8" stroke="#777" />
        <path d="M19,843 L23,846 L19,849 Z" fill="#000" />
        {tabs.map((t) => (
          <g key={t.label}>
            <path d={`M${t.x0},${SUB_B + 1.5} L${t.x0 + 5},${TAB_B - 0.5} L${t.x1 - 5},${TAB_B - 0.5} L${t.x1},${SUB_B + 1.5}`}
              fill={t.active ? "#fbfbfb" : "#e8e6d6"} stroke="#555" />
            <text x={t.x0 + 9} y={849.5} fontSize={10.6} fill="#000">{t.label}</text>
          </g>
        ))}

        {/* ---------- date axis ---------- */}
        <g fontSize={13} fontWeight="bold" fill="#000" clipPath="url(#dateClip)">
          {dateItems.map((d) => (
            <text key={d.label} x={d.x} y={868}>{d.label}</text>
          ))}
        </g>
        <rect x={cursorBoxX0} y={853} width={79} height={19} fill="#f47a20" />
        <text x={cursorX} y={868} textAnchor="middle" fontSize={13} fontWeight="bold" fill="#fff">{cursorLabel}</text>
        <rect x={0} y={881} width={W} height={6} fill="#ededed" />

        {/* ---------- right axis ---------- */}
        <line x1={PR + 0.5} x2={PR + 0.5} y1={0} y2={TAB_B} stroke="#000" />
        {priceTicks.filter((p) => p !== lastClose).map((p) => (
          <g key={p}>
            <rect x={1142} y={Math.round(yScale(p))} width={1} height={1} fill="#000" />
            <text x={1155} y={yScale(p) + 4.5} fontSize={12.5} fontWeight="bold" fill="#000">{p.toFixed(2)}</text>
          </g>
        ))}
        {labelBox(1154, yScale(cursorPrice), 71, cursorPrice.toFixed(5), "#f47a20")}
        {labelBox(1154, yScale(lastClose), 47, lastClose.toFixed(2), "#ff0000")}
        {labelBox(1154, yScale(cycleLast), 68, cycleLast.toFixed(5), "#0a2462")}
        <text x={1155} y={volScale(10) + 5} fontSize={13} fontWeight="bold" fill="#000">10K</text>
        {labelBox(1155, stochScale(lastK) - 1, 32, lastK.toFixed(2), "#0000ff")}
        {labelBox(1155, stochScale(lastD), 32, lastD.toFixed(2), "#ff0000")}
        {labelBox(1155, volScale(lastVolume / 1000) - 4, 21, String(lastVolume), "#ff0000")}
        <line x1={W - 1.5} x2={W - 1.5} y1={0} y2={H} stroke="#d0d0d0" />
      </svg>
    </div>
  );
}
